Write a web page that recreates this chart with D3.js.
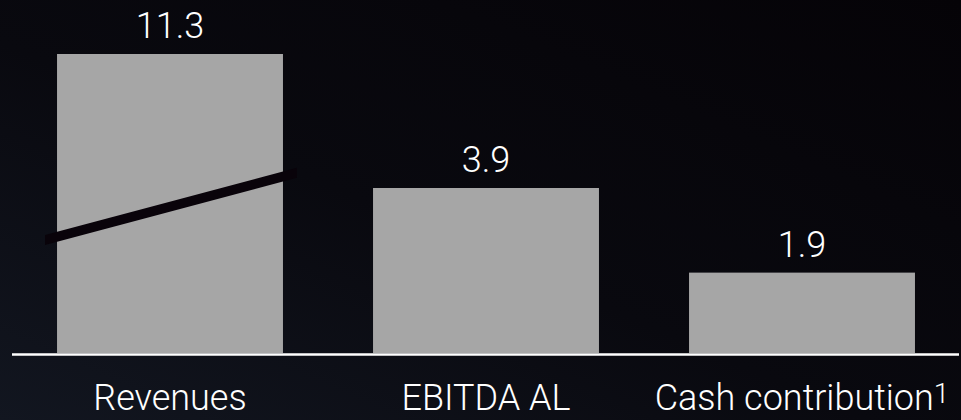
<!DOCTYPE html>
<html>
<head>
<meta charset="utf-8">
<script src="https://cdn.jsdelivr.net/npm/d3@7/dist/d3.min.js"></script>
<style>
  html, body { margin: 0; padding: 0; background: #07060b; }
  svg { display: block; }
  text { font-family: Roboto, "Noto Sans", sans-serif; fill: #ffffff; }
</style>
</head>
<body>
<svg id="chart" width="961" height="420"></svg>
<script>
// Key figures (EUR bn)
const categories = ["Revenues", "EBITDA AL", "Cash contribution"];
const footnotes = ["", "", "1"];
const values = [11.3, 3.9, 1.9];
const valueLabels = ["11.3", "3.9", "1.9"];

// Axis break on the tall bar: the scale compresses everything above breakValue
const breakValue = 4.5;
const breakLineValues = [2.67, 4.26]; // where the break stroke crosses, left and right

const W = 961, H = 420;
const baseY = 353, topY = 54, left = 12, right = 960;

const svg = d3.select("#chart");

// Background gradient
const defs = svg.append("defs");
const grad = defs.append("linearGradient")
  .attr("id", "bg").attr("x1", 0).attr("y1", 1).attr("x2", 1).attr("y2", 0);
grad.append("stop").attr("offset", "0%").attr("stop-color", "#121620");
grad.append("stop").attr("offset", "45%").attr("stop-color", "#09090f");
grad.append("stop").attr("offset", "100%").attr("stop-color", "#050307");
svg.append("rect").attr("width", W).attr("height", H).attr("fill", "url(#bg)");

const x = d3.scaleBand()
  .domain(categories)
  .range([left, right])
  .paddingInner(0.285)
  .paddingOuter(0.1425);

const unit = (baseY - 188) / 3.9;
const y = d3.scaleLinear()
  .domain([0, breakValue, d3.max(values)])
  .range([baseY, baseY - breakValue * unit, topY]);

const data = categories.map((c, i) => ({
  cat: c, value: values[i], label: valueLabels[i], note: footnotes[i]
}));

// Bars
svg.append("g").selectAll("rect")
  .data(data)
  .join("rect")
  .attr("x", d => x(d.cat))
  .attr("y", d => y(d.value))
  .attr("width", x.bandwidth())
  .attr("height", d => baseY - y(d.value))
  .attr("fill", "#a6a6a6");

// Break marker across the first bar
const bx0 = x(categories[0]) - 12;
const bx1 = x(categories[0]) + x.bandwidth() + 14;
const yl = y(breakLineValues[0]), yr = y(breakLineValues[1]);
const half = 5;
svg.append("path")
  .attr("d", `M${bx0},${yl - half}L${bx1},${yr - half}L${bx1},${yr + half}L${bx0},${yl + half}Z`)
  .attr("fill", "#09030a");

// Value labels
svg.append("g").selectAll("text")
  .data(data)
  .join("text")
  .attr("x", d => x(d.cat) + x.bandwidth() / 2)
  .attr("y", d => y(d.value) - 16)
  .attr("text-anchor", "middle")
  .attr("font-size", 36)
  .attr("font-weight", 300)
  .text(d => d.label);

// Baseline
svg.append("line")
  .attr("x1", left).attr("x2", right - 1)
  .attr("y1", baseY + 1.5).attr("y2", baseY + 1.5)
  .attr("stroke", "#ffffff").attr("stroke-width", 2.5);

// Category labels
const cl = svg.append("g").selectAll("text")
  .data(data)
  .join("text")
  .attr("x", d => x(d.cat) + x.bandwidth() / 2)
  .attr("y", 410)
  .attr("text-anchor", "middle")
  .attr("font-size", 36)
  .attr("font-weight", 300);
cl.append("tspan").text(d => d.cat);
cl.filter(d => d.note).append("tspan")
  .attr("font-size", 28)
  .attr("dy", -7)
  .text(d => d.note);
</script>
</body>
</html>
